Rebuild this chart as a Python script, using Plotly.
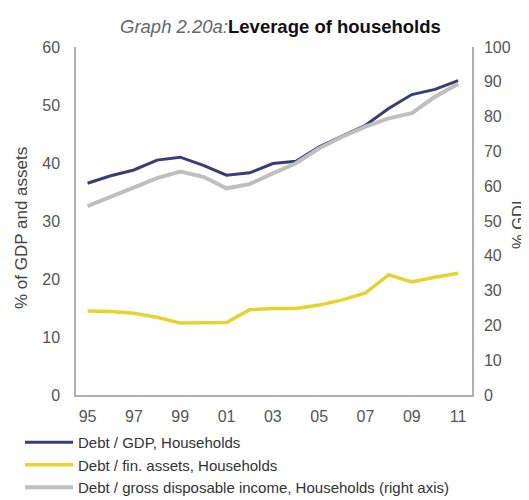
import plotly.graph_objects as go

years = list(range(1995, 2012))
tick_years = [1995, 1997, 1999, 2001, 2003, 2005, 2007, 2009, 2011]
tick_labels = ["95", "97", "99", "01", "03", "05", "07", "09", "11"]

debt_gdp = [36.5, 37.8, 38.8, 40.5, 41.0, 39.6, 37.9, 38.3, 39.9, 40.3, 42.8, 44.7, 46.5, 49.4, 51.8, 52.7, 54.2]
debt_fin_assets = [14.5, 14.4, 14.1, 13.4, 12.4, 12.4, 12.5, 14.7, 14.9, 14.9, 15.5, 16.4, 17.6, 20.7, 19.5, 20.3, 21.0]
debt_gdi = [54.3, 57.0, 59.4, 62.3, 64.2, 62.7, 59.4, 60.6, 63.7, 66.6, 70.9, 74.2, 77.1, 79.5, 81.0, 85.7, 89.4]

names = ["Debt / GDP, Households",
         "Debt / fin. assets, Households",
         "Debt / gross disposable income, Households (right axis)"]

FONT = "Liberation Sans, Arial, sans-serif"

# page offset (body margin) compensation
OFF = 8
W, H = 529, 500
L, R, T, B = 76 - OFF, 472 - OFF, 47 - OFF, 395 - OFF

fig = go.Figure()
fig.add_trace(go.Scatter(x=years, y=debt_gdp, name=names[0], mode="lines",
                         line=dict(color="#3b3c74", width=3)))
fig.add_trace(go.Scatter(x=years, y=debt_fin_assets, name=names[1], mode="lines",
                         line=dict(color="#e6d32c", width=3.5)))
fig.add_trace(go.Scatter(x=years, y=debt_gdi, name=names[2], mode="lines", yaxis="y2",
                         line=dict(color="#bfbfbd", width=4)))

axis_common = dict(showgrid=False, zeroline=False, showline=True, linecolor="#b0b0b0",
                   linewidth=1.5, tickfont=dict(family=FONT, size=16, color="#555555"))


def px_x(x):
    return (x - OFF - L) / (R - L)


def px_y(y):
    return (B - (y - OFF)) / (B - T)


fig.update_layout(
    width=W, height=H,
    margin=dict(l=L, r=W - R, t=T, b=H - B, autoexpand=False),
    paper_bgcolor="white", plot_bgcolor="white",
    font=dict(family=FONT, color="#444444"),
    xaxis=dict(range=[1994.5, 2011.6], tickvals=tick_years, ticktext=tick_labels,
               ticks="", ticklabelstandoff=6, **axis_common),
    yaxis=dict(range=[0, 60], dtick=10, ticks="", ticklabelstandoff=11, **axis_common),
    yaxis2=dict(range=[0, 100], dtick=10, overlaying="y", side="right", ticks="",
                ticklabelstandoff=7, **axis_common),
    showlegend=True,
    legend=dict(xref="container", yref="container", x=(20 - OFF) / W, y=1 - (426 - OFF) / H,
                xanchor="left", yanchor="top",
                font=dict(family=FONT, size=15, color="#333333"),
                tracegroupgap=0, itemwidth=48, bgcolor="rgba(0,0,0,0)"),
    annotations=[
        dict(text="<i><span style='color:#666666'>Graph 2.20a:</span></i><b><span style='color:#111111'>Leverage of households</span></b>",
             xref="paper", yref="paper", x=px_x(280), y=px_y(26),
             xanchor="center", yanchor="middle",
             showarrow=False, font=dict(family=FONT, size=18.5)),
        dict(text="% of GDP and assets", textangle=-90, xref="paper", yref="paper",
             x=px_x(21), y=px_y(228), xanchor="center", yanchor="middle", showarrow=False,
             font=dict(family=FONT, size=17, color="#444444")),
        dict(text="% GDI", textangle=-90, xref="paper", yref="paper",
             x=px_x(518), y=px_y(225), xanchor="center", yanchor="middle", showarrow=False,
             font=dict(family=FONT, size=16.5, color="#444444")),
    ],
)

fig.write_html("out.html")
